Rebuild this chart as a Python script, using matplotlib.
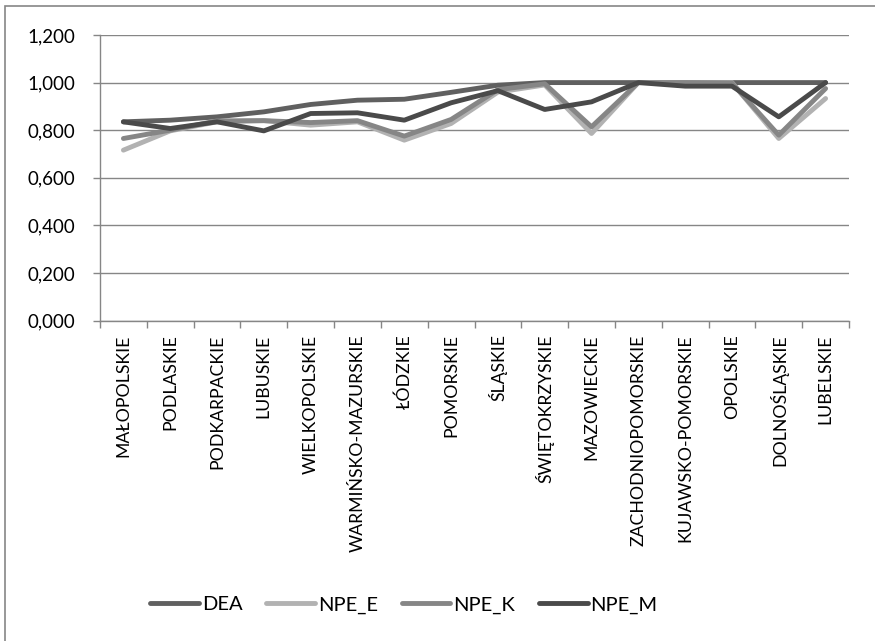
import matplotlib.pyplot as plt
from matplotlib.patches import Rectangle
from matplotlib.ticker import FuncFormatter, FixedLocator

regions = ['MAŁOPOLSKIE', 'PODLASKIE', 'PODKARPACKIE', 'LUBUSKIE', 'WIELKOPOLSKIE',
           'WARMIŃSKO-MAZURSKIE', 'ŁÓDZKIE', 'POMORSKIE', 'ŚLĄSKIE', 'ŚWIĘTOKRZYSKIE',
           'MAZOWIECKIE', 'ZACHODNIOPOMORSKIE', 'KUJAWSKO-POMORSKIE', 'OPOLSKIE',
           'DOLNOŚLĄSKIE', 'LUBELSKIE']

dea = [0.835, 0.842, 0.856, 0.877, 0.908, 0.926, 0.930, 0.959, 0.989, 1.0,
       1.0, 1.0, 1.0, 1.0, 1.0, 1.0]
npe_e = [0.716, 0.797, 0.835, 0.840, 0.821, 0.835, 0.758, 0.828, 0.960, 0.990,
         0.786, 1.0, 1.0, 1.0, 0.765, 0.933]
npe_k = [0.765, 0.800, 0.839, 0.840, 0.832, 0.840, 0.775, 0.845, 0.970, 0.995,
         0.814, 1.0, 1.0, 0.998, 0.779, 0.975]
npe_m = [0.835, 0.807, 0.835, 0.797, 0.870, 0.873, 0.842, 0.915, 0.966, 0.887,
         0.919, 1.0, 0.985, 0.985, 0.856, 1.0]

series = [('DEA', dea, '#606060'), ('NPE_E', npe_e, '#b2b2b2'),
          ('NPE_K', npe_k, '#868686'), ('NPE_M', npe_m, '#4a4a4a')]

plt.rcParams['font.family'] = ['Lato', 'DejaVu Sans']
grid_c = '#868686'

fig = plt.figure(figsize=(8.75, 6.41), dpi=100)
ax = fig.add_axes([100 / 875, 1 - 320.5 / 641, 749 / 875, 285.5 / 641])

x = list(range(len(regions)))
for name, vals, col in series:
    ax.plot(x, vals, color=col, lw=3.5, label=name, solid_capstyle='round')

ax.set_xlim(-0.5, len(regions) - 0.5)
ax.set_ylim(0, 1.2)
ax.set_yticks([0, 0.2, 0.4, 0.6, 0.8, 1.0, 1.2])
ax.yaxis.set_major_formatter(FuncFormatter(lambda v, p: f'{v:.3f}'.replace('.', ',')))
ax.grid(axis='y', color=grid_c, lw=1)
ax.set_axisbelow(True)

ax.set_xticks(x)
ax.set_xticklabels(regions, rotation=90, fontsize=12.7)
ax.xaxis.set_minor_locator(FixedLocator([i - 0.5 for i in range(len(regions) + 1)]))
ax.tick_params(axis='x', which='major', length=0, pad=10)
ax.tick_params(axis='x', which='minor', length=5, color=grid_c, width=1)
ax.tick_params(axis='y', length=5, color=grid_c, width=1, pad=13, labelsize=13.5)

for s in ['top', 'right']:
    ax.spines[s].set_visible(False)
for s in ['left', 'bottom']:
    ax.spines[s].set_color(grid_c)
    ax.spines[s].set_linewidth(1)

fig.legend(loc='center', bbox_to_anchor=(404 / 875, 1 - 605 / 641), ncol=4,
           frameon=False, fontsize=14.5, handlelength=2.4, handletextpad=0.15,
           columnspacing=1.2)

fig.add_artist(Rectangle((5 / 875, -0.1), 2, 1 - 5.5 / 641 + 0.1,
                         transform=fig.transFigure, fill=False,
                         edgecolor=grid_c, lw=1.2))

fig.savefig('out.png', dpi=100)
